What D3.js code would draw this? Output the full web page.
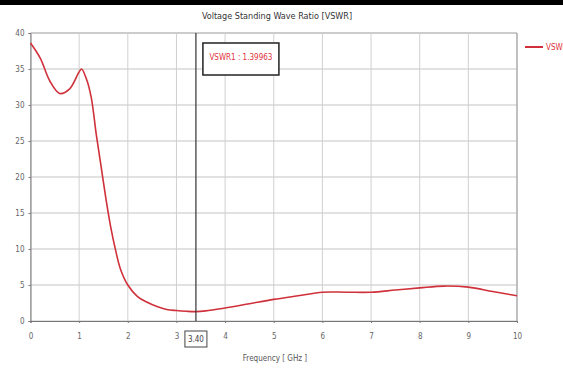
<!DOCTYPE html>
<html>
<head>
<meta charset="utf-8">
<script src="https://cdnjs.cloudflare.com/ajax/libs/d3/7.8.5/d3.min.js"></script>
<style>
  body { margin: 0; background: #fff; overflow: hidden; }
  svg { display: block; }
  text { font-family: "Liberation Sans Narrow", "DejaVu Sans Condensed", "Liberation Sans", sans-serif; }
</style>
</head>
<body>
<svg id="chart" width="563" height="375"></svg>
<script>
// frequency [GHz] and VSWR
var freq = [0, 0.2, 0.4, 0.6, 0.8, 1.0, 1.05, 1.15, 1.25, 1.35, 1.45, 1.55, 1.65, 1.75, 1.85, 2.0,
            2.2, 2.4, 2.6, 2.8, 3.0, 3.2, 3.4, 3.6, 3.8, 4.0, 4.5, 5.0, 5.5, 6.0, 6.5, 7.0,
            7.5, 8.0, 8.5, 9.0, 9.5, 10];
var vswr = [38.6, 36.5, 33.3, 31.6, 32.2, 34.6, 35.0, 33.6, 31.0, 26.0, 21.5, 17.0, 13.0, 9.8, 7.2, 5.0,
            3.4, 2.6, 2.0, 1.6, 1.45, 1.35, 1.3, 1.4, 1.6, 1.8, 2.4, 3.0, 3.5, 4.0, 4.0, 4.0,
            4.3, 4.6, 4.85, 4.7, 4.1, 3.5];
var xTicks = [0, 1, 2, 3, 4, 5, 6, 7, 8, 9, 10];
var yTicks = [0, 5, 10, 15, 20, 25, 30, 35, 40];
var markerFreq = 3.4;
var markerLabel = "VSWR1 : 1.39963";

(function() {
    var svg = d3.select("#chart"),
        x0 = 30.5, x1 = 517, y0 = 33, y1 = 321;

    var x = d3.scaleLinear().domain([0, 10]).range([x0, x1]);
    var y = d3.scaleLinear().domain([0, 40]).range([y1, y0]);

    // black strip at top
    svg.append("rect").attr("x", 0).attr("y", 0).attr("width", 563).attr("height", 5).attr("fill", "#000");

    svg.append("text")
        .attr("x", 277).attr("y", 19)
        .attr("text-anchor", "middle")
        .attr("font-size", 9).attr("fill", "#333")
        .text("Voltage Standing Wave Ratio [VSWR]");

    // grid
    svg.append("g").selectAll("line")
        .data(yTicks)
        .enter().append("line")
        .attr("x1", x0).attr("x2", x1)
        .attr("y1", function(d) { return y(d); })
        .attr("y2", function(d) { return y(d); })
        .attr("stroke", function(d) { return d == 40 ? "#999" : "#c4c4c4"; })
        .attr("stroke-width", 1);

    svg.append("g").selectAll("line")
        .data(xTicks)
        .enter().append("line")
        .attr("y1", y0).attr("y2", y1)
        .attr("x1", function(d) { return x(d); })
        .attr("x2", function(d) { return x(d); })
        .attr("stroke", "#d0d0d0")
        .attr("stroke-width", 1);

    // axes
    var xAxis = svg.append("g")
        .attr("transform", "translate(0," + y1 + ")")
        .call(d3.axisBottom(x).tickValues(xTicks).tickSize(2).tickPadding(10).tickFormat(d3.format("d")));
    var yAxis = svg.append("g")
        .attr("transform", "translate(" + x0 + ",0)")
        .call(d3.axisLeft(y).tickValues(yTicks).tickSize(2).tickPadding(4).tickFormat(d3.format("d")));
    [xAxis, yAxis].forEach(function(a) {
        a.select(".domain").attr("stroke", "#777");
        a.selectAll(".tick line").attr("stroke", "#777");
        a.selectAll("text").attr("font-size", 8).attr("fill", "#666")
            .attr("font-family", "'Liberation Sans Narrow', 'DejaVu Sans Condensed', sans-serif");
    });

    // right border
    svg.append("line").attr("x1", x1).attr("x2", x1).attr("y1", y0).attr("y2", y1)
        .attr("stroke", "#999");

    svg.append("text")
        .attr("x", 275).attr("y", 361)
        .attr("text-anchor", "middle")
        .attr("font-size", 8).attr("fill", "#555")
        .text("Frequency [ GHz ]");

    // curve
    var line = d3.line()
        .x(function(d, i) { return x(freq[i]); })
        .y(function(d) { return y(d); })
        .curve(d3.curveCatmullRom.alpha(0.5));

    svg.append("path")
        .datum(vswr)
        .attr("d", line)
        .attr("fill", "none")
        .attr("stroke", "#d0303a")
        .attr("stroke-width", 1.6);

    // marker
    var mx = x(markerFreq);
    svg.append("line").attr("x1", mx).attr("x2", mx).attr("y1", y0).attr("y2", y1)
        .attr("stroke", "#333").attr("stroke-width", 1.2);

    svg.append("rect").attr("x", mx + 7).attr("y", 43).attr("width", 76).attr("height", 32)
        .attr("fill", "#fff").attr("stroke", "#222").attr("stroke-width", 1.5);
    svg.append("text").attr("x", mx + 45).attr("y", 60)
        .attr("text-anchor", "middle").attr("font-size", 8).attr("fill", "#e0303a")
        .text(markerLabel);

    svg.append("rect").attr("x", mx - 11).attr("y", 331).attr("width", 22).attr("height", 16)
        .attr("fill", "#fff").attr("stroke", "#444");
    svg.append("text").attr("x", mx).attr("y", 342)
        .attr("text-anchor", "middle").attr("font-size", 8).attr("fill", "#444")
        .text(markerFreq.toFixed(2));

    // legend (cut at right edge, as in the original)
    svg.append("line").attr("x1", 525).attr("x2", 543).attr("y1", 47).attr("y2", 47)
        .attr("stroke", "#d0303a").attr("stroke-width", 2);
    svg.append("text").attr("x", 546).attr("y", 50)
        .attr("font-size", 8).attr("fill", "#e0303a")
        .text("VSWR1");
})();
</script>
</body>
</html>
